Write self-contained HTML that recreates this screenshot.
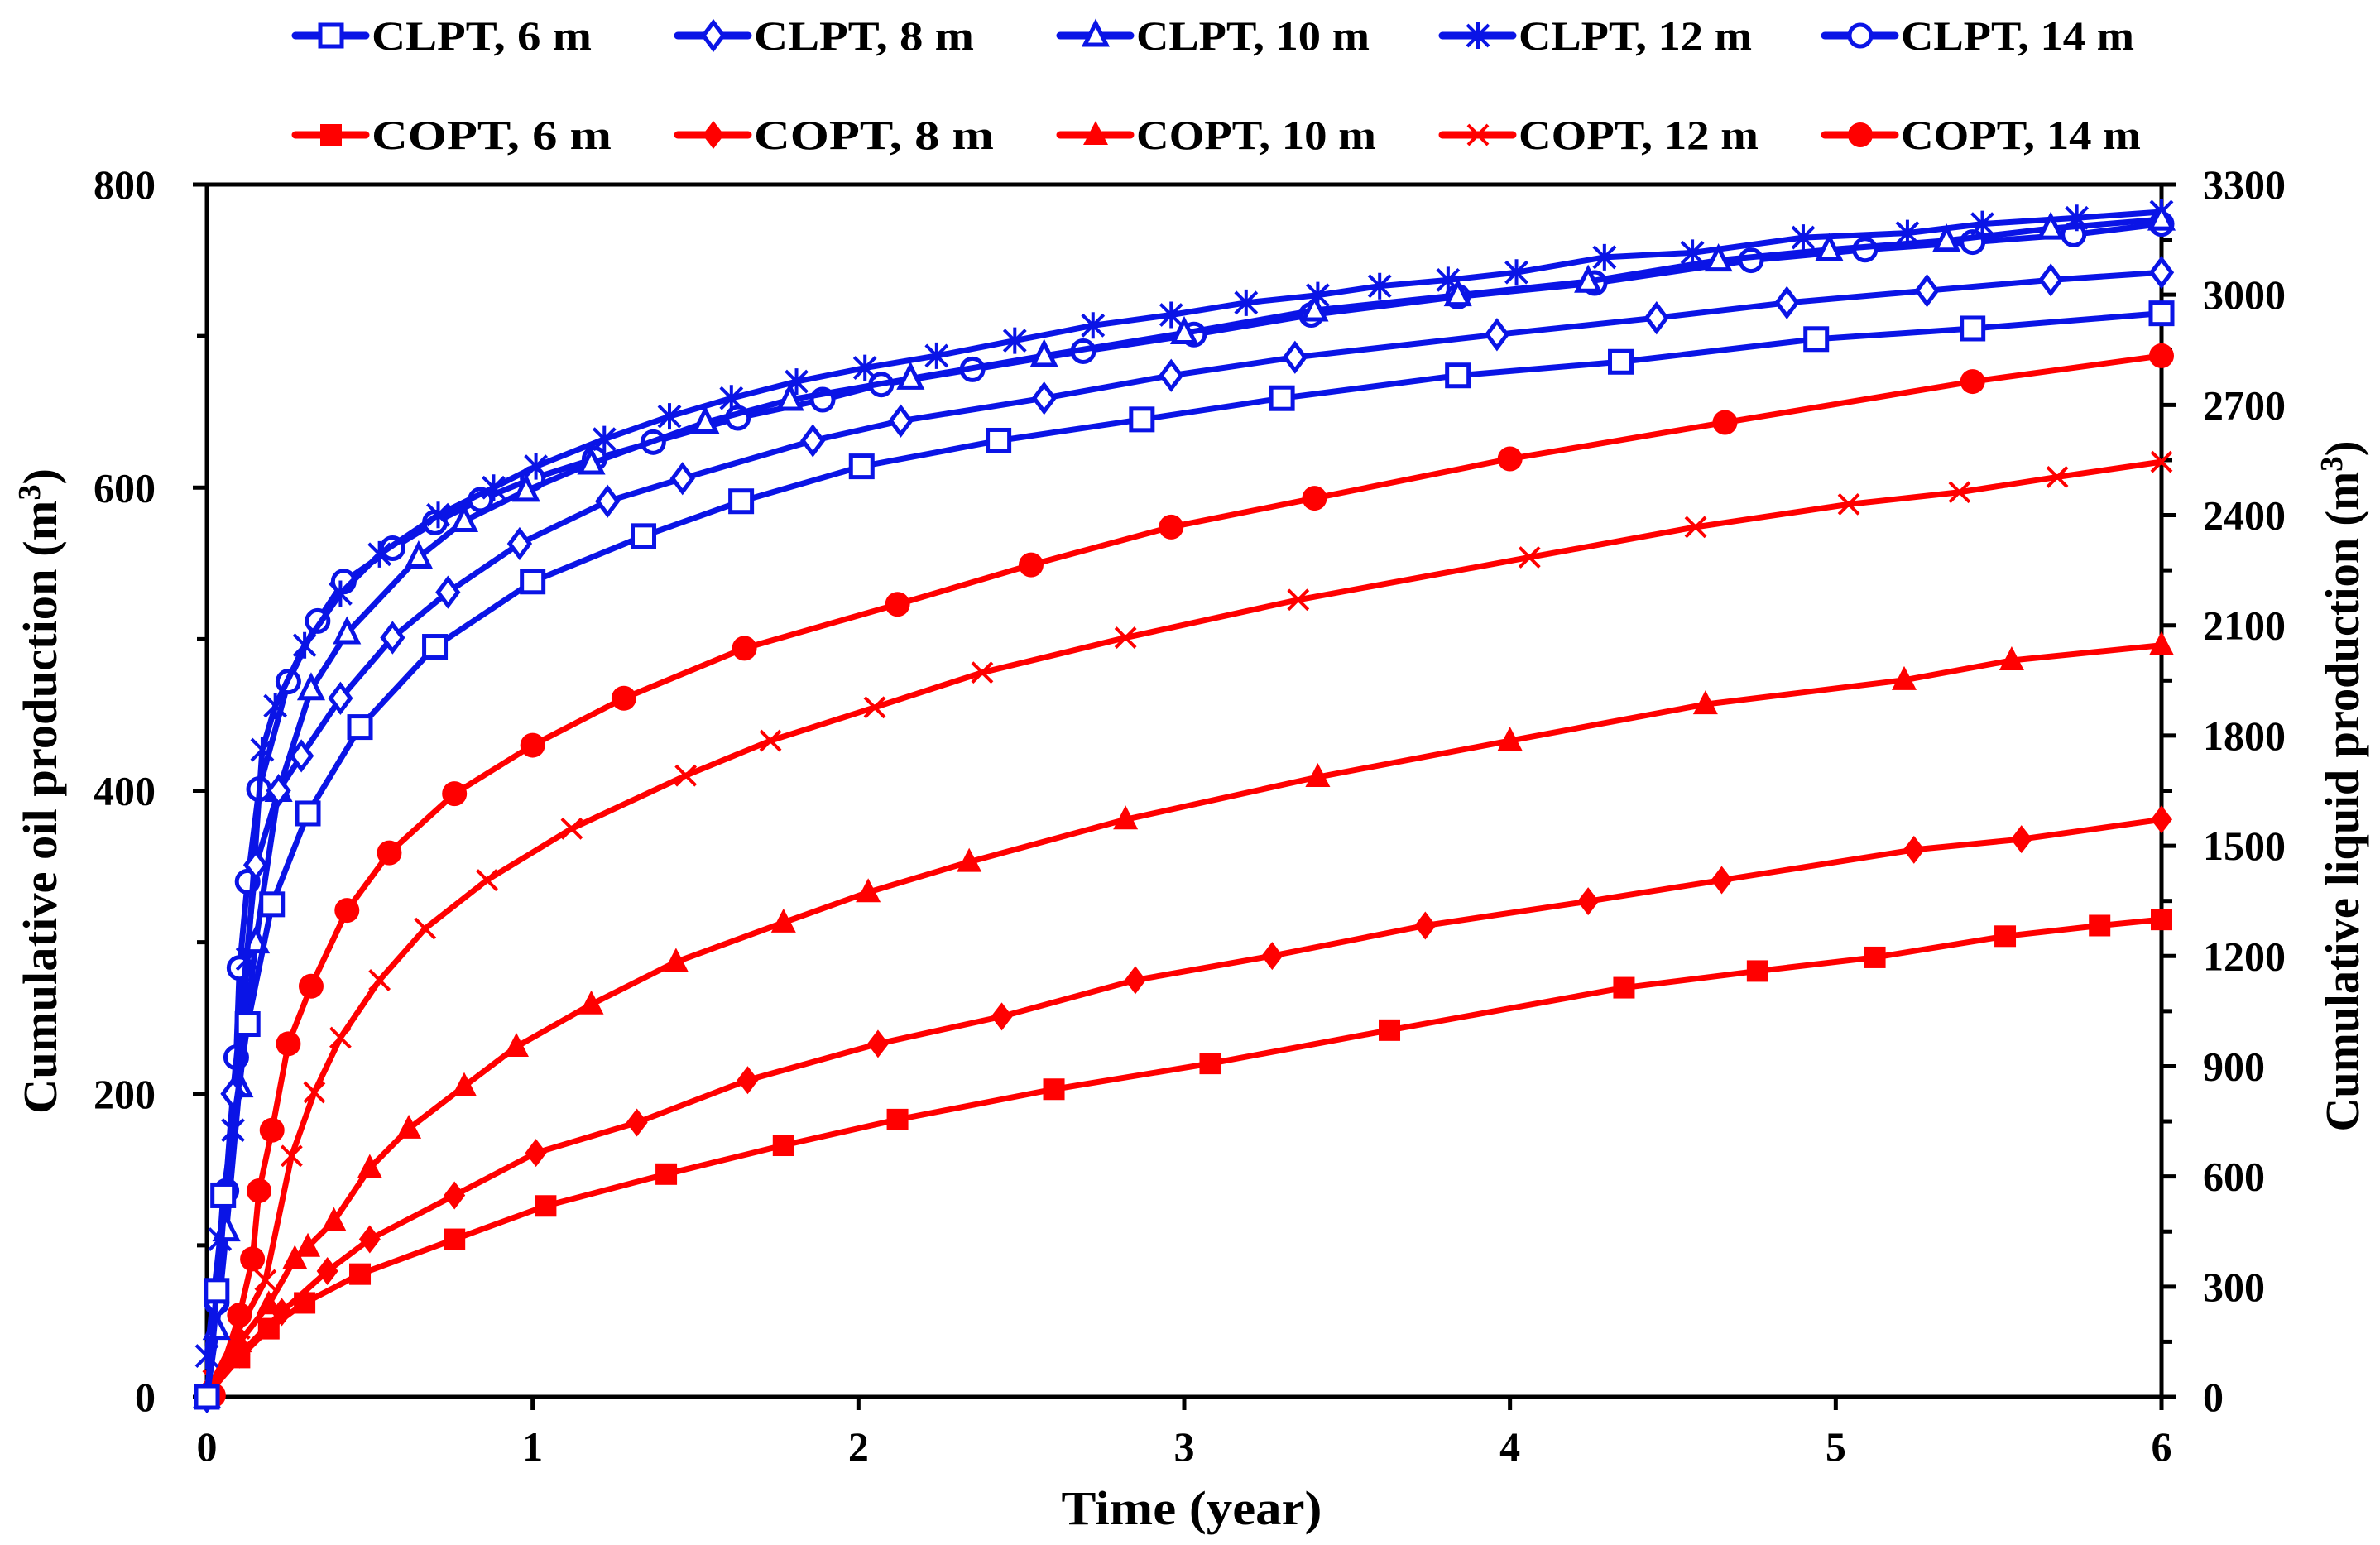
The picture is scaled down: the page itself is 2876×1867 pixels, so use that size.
<!DOCTYPE html>
<html><head><meta charset="utf-8"><style>
html,body{margin:0;padding:0;background:#fff}
svg{display:block}
text{font-family:"Liberation Serif","Times New Roman",serif;font-weight:bold;fill:#000}
</style></head><body>
<svg id="chart" width="2876" height="1867" viewBox="0 0 2876 1867" xmlns="http://www.w3.org/2000/svg">
<g id="axes"></g>
<g id="series"></g>
<g id="legend"></g>
<text x="0" y="0" transform="translate(68,956) rotate(-90)" text-anchor="middle" font-size="58" textLength="780" lengthAdjust="spacingAndGlyphs">Cumulative oil production (m<tspan dy="-20" font-size="38">3</tspan><tspan dy="20">)</tspan></text>
<text x="0" y="0" transform="translate(2850,950) rotate(-90)" text-anchor="middle" font-size="58" textLength="835" lengthAdjust="spacingAndGlyphs">Cumulative liquid production (m<tspan dy="-20" font-size="38">3</tspan><tspan dy="20">)</tspan></text>
<text x="1440" y="1842" text-anchor="middle" font-size="58" textLength="315" lengthAdjust="spacingAndGlyphs">Time (year)</text>
</svg>
<script>
const xTicks=[0,1,2,3,4,5,6];
const yLeftTicks=[0,200,400,600,800];
const yRightTicks=[0,300,600,900,1200,1500,1800,2100,2400,2700,3000,3300];
const seriesNames=["CLPT, 6 m","CLPT, 8 m","CLPT, 10 m","CLPT, 12 m","CLPT, 14 m","COPT, 6 m","COPT, 8 m","COPT, 10 m","COPT, 12 m","COPT, 14 m"];
const clpt6T=[0,0.03,0.05,0.125,0.2,0.31,0.47,0.7,1.0,1.34,1.64,2.01,2.43,2.87,3.3,3.84,4.34,4.94,5.42,6];
const clpt6V=[0,70,133,246,325,385,442,495,538,568,591,614,631,645,659,674,683,698,705,715];
const clpt8T=[0,0.03,0.08,0.15,0.22,0.29,0.41,0.57,0.74,0.96,1.23,1.46,1.86,2.13,2.57,2.96,3.34,3.96,4.45,4.85,5.28,5.66,6];
const clpt8V=[0,61,200,351,400,423,461,501,531,563,591,606,631,644,659,674,686,701,712,722,730,737,742];
const clpt10T=[0,0.03,0.06,0.1,0.15,0.22,0.32,0.43,0.65,0.79,0.98,1.18,1.53,1.79,2.16,2.57,3.0,3.4,3.84,4.24,4.64,4.98,5.34,5.66,6];
const clpt10V=[0,45,110,205,300,400,467,504,554,578,598,616,643,658,672,687,702,717,727,736,750,757,763,771,777];
const clpt12T=[0,0.04,0.08,0.125,0.17,0.21,0.3,0.41,0.53,0.71,0.88,1.01,1.22,1.42,1.61,1.81,2.02,2.24,2.48,2.72,2.96,3.19,3.41,3.6,3.81,4.02,4.29,4.56,4.9,5.22,5.45,5.74,6];
const clpt12V=[27,104,176,289,427,456,496,530,556,582,600,614,632,647,659,670,679,687,697,707,714,722,727,733,737,742,752,755,765,768,774,778,782];
const clpt14T=[0,0.03,0.06,0.09,0.1,0.125,0.16,0.25,0.34,0.42,0.57,0.7,0.84,1.0,1.19,1.37,1.63,1.89,2.07,2.35,2.69,3.03,3.39,3.84,4.26,4.74,5.09,5.42,5.73,6];
const clpt14V=[0,62,136,224,283,340,401,472,512,538,560,577,592,606,619,630,646,658,668,678,690,701,714,726,735,750,757,762,767,774];
const copt6T=[0,0.1,0.19,0.3,0.47,0.76,1.04,1.41,1.77,2.12,2.6,3.08,3.63,4.35,4.76,5.12,5.52,5.81,6];
const copt6V=[1,26,45,62,81,104,126,147,166,183,203,220,242,270,281,290,304,311,315];
const copt8T=[0,0.1,0.23,0.37,0.5,0.76,1.01,1.32,1.66,2.06,2.44,2.85,3.27,3.74,4.24,4.65,5.24,5.57,6];
const copt8V=[3,28,56,83,104,133,161,181,209,233,251,275,291,311,327,341,361,368,381];
const copt10T=[0,0.1,0.19,0.27,0.31,0.39,0.5,0.62,0.79,0.95,1.18,1.44,1.77,2.03,2.34,2.82,3.41,4.0,4.6,5.21,5.54,6];
const copt10V=[3,36,61,91,99,116,151,177,205,231,259,287,313,333,353,381,409,433,457,473,486,496];
const copt12T=[0.02,0.1,0.18,0.26,0.33,0.41,0.53,0.67,0.86,1.12,1.47,1.73,2.05,2.38,2.82,3.35,4.06,4.57,5.04,5.38,5.68,6];
const copt12V=[11,45,77,159,201,237,275,309,341,375,410,433,455,478,501,526,554,574,589,597,607,617];
const copt14T=[0.02,0.1,0.14,0.16,0.2,0.25,0.32,0.43,0.56,0.76,1.0,1.28,1.65,2.12,2.53,2.96,3.4,4.0,4.66,5.42,6];
const copt14V=[1,54,91,136,176,233,271,321,359,398,430,461,494,523,549,574,593,619,643,670,687];

const NS="http://www.w3.org/2000/svg";
const L=250,R=2612,T=223,B=1688;
const xS=t=>L+(t-0)/6*(R-L);
const yS=v=>B-v/800*(B-T);
const yR=v=>B-v/3300*(B-T);
function mk(tag,attrs,parent){const e=document.createElementNS(NS,tag);for(const k in attrs)e.setAttribute(k,attrs[k]);parent.appendChild(e);return e;}
const axes=document.getElementById('axes');
let f=mk('rect',{x:L,y:T,width:R-L,height:B-T,fill:'none',stroke:'#000','stroke-width':5},axes);


xTicks.forEach(t=>{
  let l=mk('line',{x1:xS(t),x2:xS(t),y1:B,y2:B+16,stroke:'#000','stroke-width':5},axes);
  
  
  let tx=mk('text',{x:xS(t),y:1765,'text-anchor':'middle','font-size':50},axes);tx.textContent=t;
  
  
});
for(let v=0;v<=800;v+=100){
  let l=mk('line',{x1:L-(v%200?12:17),x2:L,y1:yS(v),y2:yS(v),stroke:'#000','stroke-width':5},axes);
  
  
}
yLeftTicks.forEach(v=>{
  let tx=mk('text',{x:188,y:yS(v)+17,'text-anchor':'end','font-size':50},axes);tx.textContent=v;
  
  
});
for(let v=0;v<=3300;v+=150){
  let l=mk('line',{x1:R,x2:R+(v%300?13:17),y1:yR(v),y2:yR(v),stroke:'#000','stroke-width':5},axes);
  
  
}
yRightTicks.forEach(v=>{
  let tx=mk('text',{x:2662,y:yR(v)+17,'text-anchor':'start','font-size':50},axes);tx.textContent=v;
  
  
});
const BLUE='#0a14e6',RED='#ff0000';
function marker(g,type,x,y,color){
  const s=13,sw=5;let e;
  if(type==='sq') e=mk('rect',{x:x-s,y:y-s,width:2*s,height:2*s,fill:'#fff',stroke:color,'stroke-width':sw},g);
  else if(type==='SQ') e=mk('rect',{x:x-s,y:y-s,width:2*s,height:2*s,fill:color},g);
  else if(type==='di') e=mk('polygon',{points:`${x},${y-16} ${x+12},${y} ${x},${y+16} ${x-12},${y}`,fill:'#fff',stroke:color,'stroke-width':sw},g);
  else if(type==='DI') e=mk('polygon',{points:`${x},${y-17} ${x+13},${y} ${x},${y+17} ${x-13},${y}`,fill:color},g);
  else if(type==='tr') e=mk('polygon',{points:`${x},${y-15} ${x+13},${y+11} ${x-13},${y+11}`,fill:'#fff',stroke:color,'stroke-width':sw},g);
  else if(type==='TR') e=mk('polygon',{points:`${x},${y-17} ${x+15},${y+12} ${x-15},${y+12}`,fill:color},g);
  else if(type==='st') e=mk('path',{d:`M${x-13},${y-13}L${x+13},${y+13}M${x-13},${y+13}L${x+13},${y-13}M${x},${y-16}L${x},${y+16}`,stroke:color,'stroke-width':4,fill:'none'},g);
  else if(type==='x') e=mk('path',{d:`M${x-12},${y-12}L${x+12},${y+12}M${x-12},${y+12}L${x+12},${y-12}`,stroke:color,'stroke-width':4,fill:'none'},g);
  else if(type==='ci') e=mk('circle',{cx:x,cy:y,r:13,fill:'#fff',stroke:color,'stroke-width':sw},g);
  else e=mk('circle',{cx:x,cy:y,r:15,fill:color},g);
  
  
}
const sdefs=[
 [clpt6T,clpt6V,BLUE,'sq','clpt-6m'],[clpt8T,clpt8V,BLUE,'di','clpt-8m'],[clpt10T,clpt10V,BLUE,'tr','clpt-10m'],
 [clpt12T,clpt12V,BLUE,'st','clpt-12m'],[clpt14T,clpt14V,BLUE,'ci','clpt-14m'],
 [copt6T,copt6V,RED,'SQ','copt-6m'],[copt8T,copt8V,RED,'DI','copt-8m'],[copt10T,copt10V,RED,'TR','copt-10m'],
 [copt12T,copt12V,RED,'x','copt-12m'],[copt14T,copt14V,RED,'CI','copt-14m']];
const sg=document.getElementById('series');
sdefs.slice().reverse().forEach(([ts,vs,c,m,n])=>{
  const g=mk('g',{},sg);
  
  
  const p=mk('polyline',{points:ts.map((t,i)=>xS(t)+','+yS(vs[i])).join(' '),fill:'none',stroke:c,'stroke-width':7,'stroke-linejoin':'round'},g);
  
  
  ts.forEach((t,i)=>marker(g,m,xS(t),yS(vs[i]),c));
});
const lg=document.getElementById('legend');
const lx=[357,819,1281,1743,2205];
sdefs.forEach(([ts,vs,c,m,n],i)=>{
  const x=lx[i%5],y=i<5?43:163;
  const g=mk('g',{},lg);
  
  
  mk('line',{x1:x,x2:x+85,y1:y,y2:y,stroke:c,'stroke-width':9,'stroke-linecap':'round'},g);
  marker(g,m,x+43,y,c);
  const tx=mk('text',{x:x+92,y:y+17,'font-size':50,textLength:i<5?(i===0?266:i===1?266:282):(i===0?272:i===1?272:290),lengthAdjust:'spacingAndGlyphs'},g);
  tx.textContent=seriesNames[i];
  
  
});
</script>
</body></html>
